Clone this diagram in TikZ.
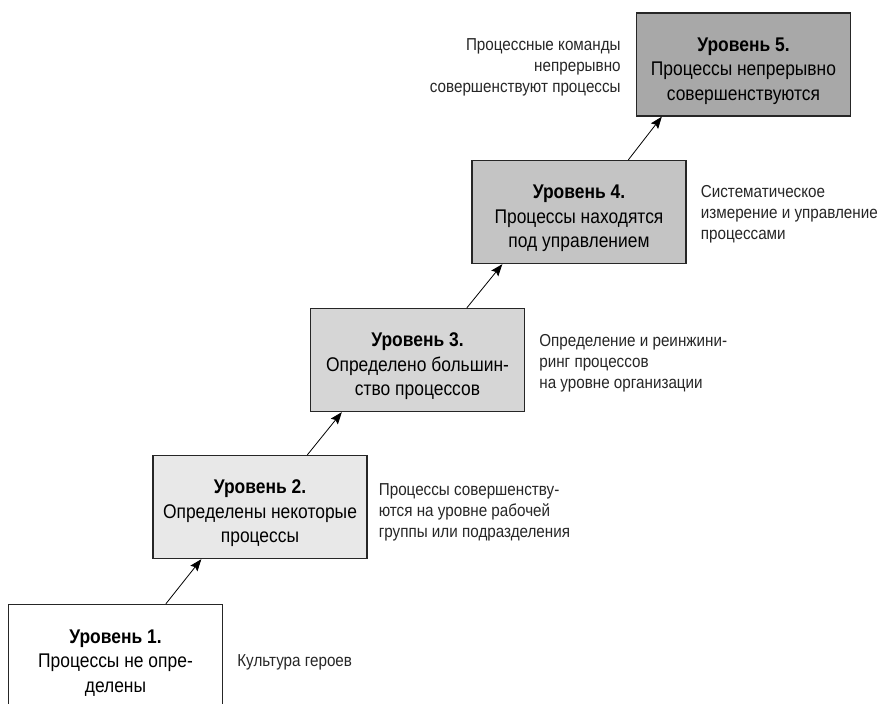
\documentclass[tikz,border=0pt]{standalone}
\usepackage{fontspec}
\setmainfont{Liberation Sans}[FakeStretch=0.88]
\usetikzlibrary{arrows.meta, positioning}
\tikzset{>={Stealth[length=12pt, width=9pt, inset=2pt]}}
\definecolor{lvlA}{gray}{1.00}
\definecolor{lvlB}{gray}{0.91}
\definecolor{lvlC}{gray}{0.84}
\definecolor{lvlD}{gray}{0.77}
\definecolor{lvlE}{gray}{0.66}
\newcommand\lvlhead[1]{{\bfseries\rule{0pt}{27pt}Уровень #1.}}
\tikzset{
  level/.style={draw=black!85, line width=1.3pt, minimum width=214pt, minimum height=103pt,
    align=center, inner sep=0pt, font=\fontsize{19.8}{24.5}\selectfont},
  note/.style={align=left, inner sep=0pt, font=\fontsize{17.3}{21}\selectfont, text=black!85},
  step arrow/.style={->, line width=0.8pt}
}

\begin{document}
\begin{tikzpicture}[x=1pt, y=-1pt]
    \useasboundingbox (0,0) rectangle (884,704);
    % levels
    \node[level, fill=lvlA] (b1) at (115.5,656) {\lvlhead{1}\\Процессы не опре-\\делены};
    \node[level, fill=lvlB] (b2) at (260,507) {\lvlhead{2}\\Определены некоторые\\процессы};
    \node[level, fill=lvlC] (b3) at (417.5,360) {\lvlhead{3}\\Определено большин-\\ство процессов};
    \node[level, fill=lvlD] (b4) at (579,212) {\lvlhead{4}\\Процессы находятся\\под управлением};
    \node[level, fill=lvlE] (b5) at (743.5,64.5) {\lvlhead{5}\\Процессы непрерывно\\совершенствуются};
    % notes
    \node[note, right=14pt of b1, yshift=-6pt] (n1) {Культура героев};
    \node[note, right=11pt of b2, yshift=-5pt] (n2) {Процессы совершенству-\\ются на уровне рабочей\\группы или подразделения};
    \node[note, right=14pt of b3, yshift=-3pt] (n3) {Определение и реинжини-\\ринг процессов\\на уровне организации};
    \node[note, right=14pt of b4, yshift=-2pt] (n4) {Систематическое\\измерение и управление\\процессами};
    \node[note, align=right, left=15pt of b5, yshift=-2.5pt] (n5) {Процессные команды\\непрерывно\\совершенствуют процессы};
    % arrows
    \draw[step arrow] ([xshift=158pt]b1.north west) -- ([xshift=49pt]b2.south west);
    \draw[step arrow] ([xshift=155pt]b2.north west) -- ([xshift=32pt]b3.south west);
    \draw[step arrow] ([xshift=157pt]b3.north west) -- ([xshift=31pt]b4.south west);
    \draw[step arrow] ([xshift=157pt]b4.north west) -- ([xshift=26pt]b5.south west);
\end{tikzpicture}
\end{document}
